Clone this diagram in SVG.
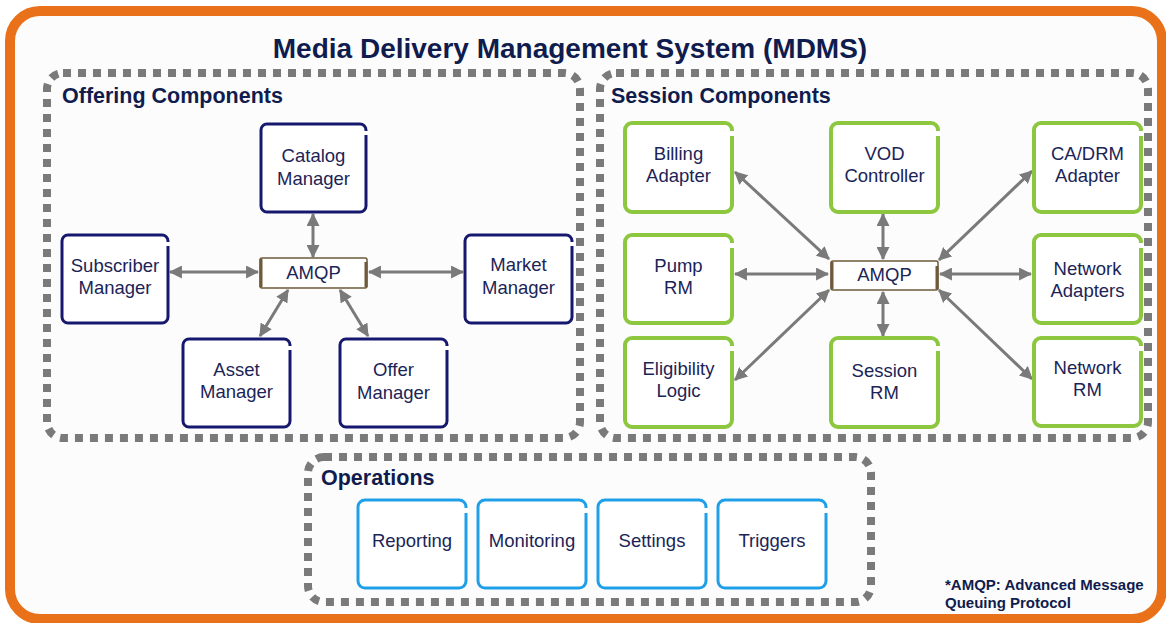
<svg xmlns="http://www.w3.org/2000/svg" width="1166" height="623" viewBox="0 0 1166 623">
  <defs>
    <style>
      .title { font-family: "Liberation Sans", Arial, sans-serif; font-weight: bold; fill: #101c4e; }
      .label { font-family: "Liberation Sans", Arial, sans-serif; font-size: 18.5px; fill: #1b2456; text-anchor: middle; }
      .group { fill: none; stroke: #7a7a7a; stroke-width: 8; stroke-dasharray: 8 7; }
      .offer { fill: #ffffff; stroke: #16186e; stroke-width: 3; }
      .session { fill: #ffffff; stroke: #8dc63f; stroke-width: 4; }
      .ops { fill: #ffffff; stroke: #1e9fe8; stroke-width: 3; }
      .bus { fill: #ffffff; stroke: #6e5a3a; stroke-width: 1.5; }
      .busedge { stroke: #6e5a3a; stroke-width: 3; }
      .notch { fill: #ffffff; }
      .link { stroke: #7a7a7a; stroke-width: 3; fill: none; marker-start: url(#ah); marker-end: url(#ah); }
    </style>
    <marker id="ah" viewBox="0 0 12 12" refX="11" refY="6" markerWidth="13" markerHeight="13" markerUnits="userSpaceOnUse" orient="auto-start-reverse">
      <path d="M0,0 L12,6 L0,12 z" fill="#7a7a7a"/>
    </marker>
  </defs>

  <!-- page frame -->
  <rect x="0" y="0" width="1166" height="623" fill="#ffffff"/>
  <rect x="10" y="11" width="1152" height="608" rx="30" fill="#fcfcfc" stroke="#e8711a" stroke-width="10"/>

  <text class="title" x="570" y="58" font-size="28" text-anchor="middle">Media Delivery Management System (MDMS)</text>

  <!-- component groups -->
  <g id="offering-group">
    <rect class="group" x="47" y="73" width="533" height="365" rx="16"/>
    <text class="title" x="62" y="103" font-size="21.5">Offering Components</text>
  </g>
  <g id="session-group">
    <rect class="group" x="600" y="73" width="548" height="365" rx="16"/>
    <text class="title" x="611" y="103" font-size="21.5">Session Components</text>
  </g>
  <g id="operations-group">
    <rect class="group" x="308" y="457" width="563" height="145" rx="16"/>
    <text class="title" x="321" y="485" font-size="21.5">Operations</text>
  </g>

  <!-- connectors -->
  <g id="connectors">
    <line class="link" x1="313" y1="214" x2="313" y2="257"/>
    <line class="link" x1="170" y1="272" x2="258" y2="272"/>
    <line class="link" x1="369" y1="272" x2="463" y2="272"/>
    <line class="link" x1="288" y1="290" x2="260" y2="336"/>
    <line class="link" x1="340" y1="290" x2="368" y2="336"/>

    <line class="link" x1="735" y1="172" x2="829" y2="259"/>
    <line class="link" x1="735" y1="274" x2="828" y2="274"/>
    <line class="link" x1="735" y1="380" x2="829" y2="290"/>
    <line class="link" x1="883" y1="214" x2="883" y2="259"/>
    <line class="link" x1="883" y1="292" x2="883" y2="336"/>
    <line class="link" x1="939" y1="260" x2="1032" y2="171"/>
    <line class="link" x1="940" y1="274" x2="1031" y2="274"/>
    <line class="link" x1="939" y1="290" x2="1032" y2="379"/>
  </g>

  <!-- offering components -->
  <g id="catalog-manager">
    <rect class="offer" x="261" y="124" width="105" height="88" rx="6"/>
    <rect class="notch" x="363" y="131" width="6" height="4"/>
    <text class="label" x="313.5" y="162">Catalog</text>
    <text class="label" x="313.5" y="185">Manager</text>
  </g>
  <g id="subscriber-manager">
    <rect class="offer" x="62" y="235" width="106" height="88" rx="6"/>
    <rect class="notch" x="165" y="242" width="6" height="4"/>
    <text class="label" x="115" y="272">Subscriber</text>
    <text class="label" x="115" y="294">Manager</text>
  </g>
  <g id="market-manager">
    <rect class="offer" x="465" y="235" width="107" height="88" rx="6"/>
    <rect class="notch" x="569" y="242" width="6" height="4"/>
    <text class="label" x="518.5" y="271">Market</text>
    <text class="label" x="518.5" y="294">Manager</text>
  </g>
  <g id="asset-manager">
    <rect class="offer" x="183" y="339" width="107" height="88" rx="6"/>
    <rect class="notch" x="287" y="346" width="6" height="4"/>
    <text class="label" x="236.5" y="376">Asset</text>
    <text class="label" x="236.5" y="398">Manager</text>
  </g>
  <g id="offer-manager">
    <rect class="offer" x="340" y="339" width="107" height="88" rx="6"/>
    <rect class="notch" x="444" y="346" width="6" height="4"/>
    <text class="label" x="393.5" y="376">Offer</text>
    <text class="label" x="393.5" y="399">Manager</text>
  </g>
  <g id="amqp-offering">
    <rect class="bus" x="260" y="258" width="107" height="30" rx="2"/>
    <line class="busedge" x1="261" y1="259" x2="261" y2="287"/>
    <line class="busedge" x1="366" y1="262" x2="366" y2="287"/>
    <text class="label" x="313.5" y="279">AMQP</text>
  </g>

  <!-- session components -->
  <g id="billing-adapter">
    <rect class="session" x="625" y="123" width="107" height="89" rx="7"/>
    <rect class="notch" x="729" y="131" width="6" height="5"/>
    <text class="label" x="678.5" y="160">Billing</text>
    <text class="label" x="678.5" y="182">Adapter</text>
  </g>
  <g id="pump-rm">
    <rect class="session" x="625" y="235" width="107" height="88" rx="7"/>
    <rect class="notch" x="729" y="243" width="6" height="5"/>
    <text class="label" x="678.5" y="272">Pump</text>
    <text class="label" x="678.5" y="294">RM</text>
  </g>
  <g id="eligibility-logic">
    <rect class="session" x="625" y="338" width="107" height="89" rx="7"/>
    <rect class="notch" x="729" y="346" width="6" height="5"/>
    <text class="label" x="678.5" y="375">Eligibility</text>
    <text class="label" x="678.5" y="397">Logic</text>
  </g>
  <g id="vod-controller">
    <rect class="session" x="831" y="123" width="107" height="89" rx="7"/>
    <rect class="notch" x="935" y="131" width="6" height="5"/>
    <text class="label" x="884.5" y="160">VOD</text>
    <text class="label" x="884.5" y="182">Controller</text>
  </g>
  <g id="session-rm">
    <rect class="session" x="831" y="338" width="107" height="89" rx="7"/>
    <rect class="notch" x="935" y="346" width="6" height="5"/>
    <text class="label" x="884.5" y="377">Session</text>
    <text class="label" x="884.5" y="399">RM</text>
  </g>
  <g id="ca-drm-adapter">
    <rect class="session" x="1034" y="123" width="107" height="89" rx="7"/>
    <rect class="notch" x="1138" y="131" width="6" height="5"/>
    <text class="label" x="1087.5" y="160">CA/DRM</text>
    <text class="label" x="1087.5" y="182">Adapter</text>
  </g>
  <g id="network-adapters">
    <rect class="session" x="1034" y="235" width="107" height="88" rx="7"/>
    <rect class="notch" x="1138" y="243" width="6" height="5"/>
    <text class="label" x="1087.5" y="275">Network</text>
    <text class="label" x="1087.5" y="297">Adapters</text>
  </g>
  <g id="network-rm">
    <rect class="session" x="1034" y="338" width="107" height="88" rx="7"/>
    <rect class="notch" x="1138" y="346" width="6" height="5"/>
    <text class="label" x="1087.5" y="374">Network</text>
    <text class="label" x="1087.5" y="396">RM</text>
  </g>
  <g id="amqp-session">
    <rect class="bus" x="831" y="261" width="107" height="29" rx="2"/>
    <line class="busedge" x1="832" y1="262" x2="832" y2="289"/>
    <line class="busedge" x1="937" y1="266" x2="937" y2="289"/>
    <text class="label" x="884.5" y="281">AMQP</text>
  </g>

  <!-- operations -->
  <g id="reporting">
    <rect class="ops" x="358" y="500" width="108" height="88" rx="7"/>
    <rect class="notch" x="463" y="508" width="6" height="5"/>
    <text class="label" x="412" y="547">Reporting</text>
  </g>
  <g id="monitoring">
    <rect class="ops" x="478" y="500" width="108" height="88" rx="7"/>
    <rect class="notch" x="583" y="508" width="6" height="5"/>
    <text class="label" x="532" y="547">Monitoring</text>
  </g>
  <g id="settings">
    <rect class="ops" x="598" y="500" width="108" height="88" rx="7"/>
    <rect class="notch" x="703" y="508" width="6" height="5"/>
    <text class="label" x="652" y="547">Settings</text>
  </g>
  <g id="triggers">
    <rect class="ops" x="718" y="500" width="108" height="88" rx="7"/>
    <rect class="notch" x="823" y="508" width="6" height="5"/>
    <text class="label" x="772" y="547">Triggers</text>
  </g>

  <!-- footnote -->
  <g id="footnote">
    <text class="title" x="945" y="590" font-size="15">*AMQP: Advanced Message</text>
    <text class="title" x="945" y="608" font-size="15">Queuing Protocol</text>
  </g>
</svg>
